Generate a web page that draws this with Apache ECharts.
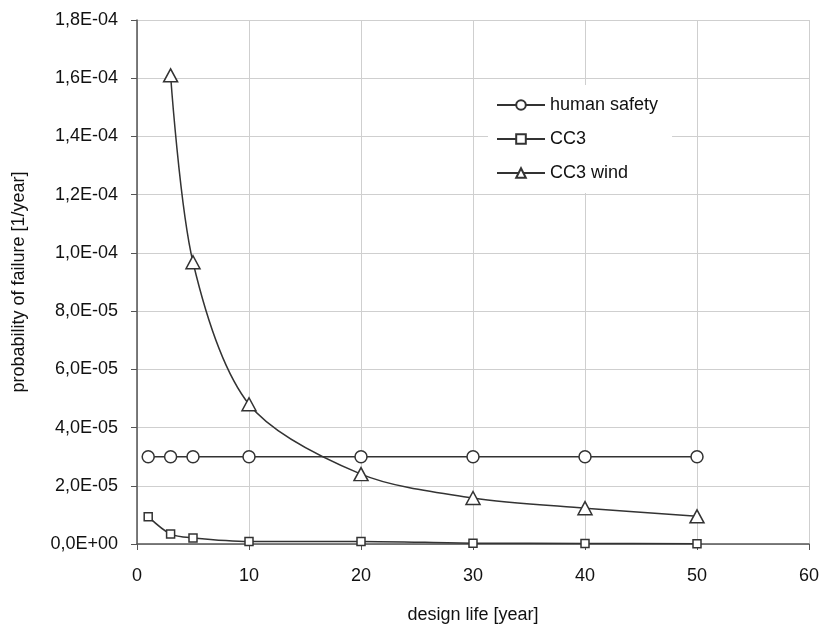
<!DOCTYPE html>
<html>
<head>
<meta charset="utf-8">
<script src="https://cdn.jsdelivr.net/npm/echarts@6/dist/echarts.min.js"></script>
<style>html,body{margin:0;padding:0;background:#fff}#c{width:824px;height:629px}</style>
</head>
<body>
<div id="c"></div>
<script>
var seriesNames = ['human safety', 'CC3', 'CC3 wind'];
var humanX = [1, 3, 5, 10, 20, 30, 40, 50];
var humanY = [3e-5, 3e-5, 3e-5, 3e-5, 3e-5, 3e-5, 3e-5, 3e-5];
var cc3X = [1, 3, 5, 10, 20, 30, 40, 50];
var cc3Y = [9.4e-6, 3.4e-6, 2.1e-6, 9e-7, 9e-7, 3e-7, 2e-7, 1e-7];
var windX = [3, 5, 10, 20, 30, 40, 50];
var windY = [1.61e-4, 9.68e-5, 4.8e-5, 2.4e-5, 1.58e-5, 1.23e-5, 9.5e-6];
var xTitle = 'design life [year]';
var yTitle = 'probability of failure [1/year]';

function pairs(xs, ys) { return xs.map(function (x, i) { return [x, ys[i]]; }); }
function fmtY(v) {
  var s = Number(v).toExponential(1);
  var m = s.split('e');
  var mant = m[0].replace('.', ',');
  var exp = parseInt(m[1], 10);
  var sign = exp < 0 ? '-' : '+';
  var a = Math.abs(exp);
  return mant + 'E' + sign + (a < 10 ? '0' + a : a);
}

var FONT = 'Liberation Sans, Arial, sans-serif';
var LINE = '#333333';
var mk = { color: '#ffffff', borderColor: LINE, borderWidth: 1.5 };

var chart = echarts.init(document.getElementById('c'), null, { renderer: 'canvas' });
chart.setOption({
  animation: false,
  backgroundColor: '#ffffff',
  textStyle: { fontFamily: FONT },
  grid: { left: 137, right: 15, top: 20, bottom: 84 },
  legend: {
    orient: 'vertical',
    left: 488, top: 85,
    padding: [11, 14, 11, 8],
    backgroundColor: '#ffffff',
    itemWidth: 48, itemHeight: 12, itemGap: 16,
    textStyle: { fontFamily: FONT, fontSize: 18, color: '#111' },
    data: seriesNames
  },
  xAxis: {
    type: 'value', min: 0, max: 60, interval: 10,
    name: xTitle, nameLocation: 'middle', nameGap: 62,
    nameTextStyle: { fontFamily: FONT, fontSize: 18, color: '#111' },
    axisLine: { show: true, lineStyle: { color: '#555', width: 1.5 } },
    axisTick: { show: true, inside: false, length: 6, lineStyle: { color: '#555' } },
    axisLabel: { fontFamily: FONT, fontSize: 18, color: '#111', margin: 23 },
    splitLine: { show: true, lineStyle: { color: '#cfcfcf', width: 1 } }
  },
  yAxis: {
    type: 'value', min: 0, max: 1.8e-4, interval: 2e-5,
    name: yTitle, nameLocation: 'middle', nameGap: 109, nameRotate: 90,
    nameTextStyle: { fontFamily: FONT, fontSize: 18, color: '#111' },
    axisLine: { show: true, lineStyle: { color: '#555', width: 1.5 } },
    axisTick: { show: true, inside: false, length: 6, lineStyle: { color: '#555' } },
    axisLabel: { fontFamily: FONT, fontSize: 18, color: '#111', margin: 19, formatter: fmtY },
    splitLine: { show: true, lineStyle: { color: '#cfcfcf', width: 1 } }
  },
  series: [
    {
      name: seriesNames[0], type: 'line', data: pairs(humanX, humanY),
      symbol: 'circle', symbolSize: 12, showAllSymbol: true,
      lineStyle: { color: LINE, width: 1.5 }, itemStyle: mk
    },
    {
      name: seriesNames[1], type: 'line', data: pairs(cc3X, cc3Y), smooth: 0.3,
      symbol: 'rect', symbolSize: 8, showAllSymbol: true,
      lineStyle: { color: LINE, width: 1.5 }, itemStyle: mk
    },
    {
      name: seriesNames[2], type: 'line', data: pairs(windX, windY), smooth: 0.3,
      symbol: 'triangle', symbolSize: [14, 13], showAllSymbol: true,
      lineStyle: { color: LINE, width: 1.5 }, itemStyle: mk
    }
  ]
});
</script>
</body>
</html>
